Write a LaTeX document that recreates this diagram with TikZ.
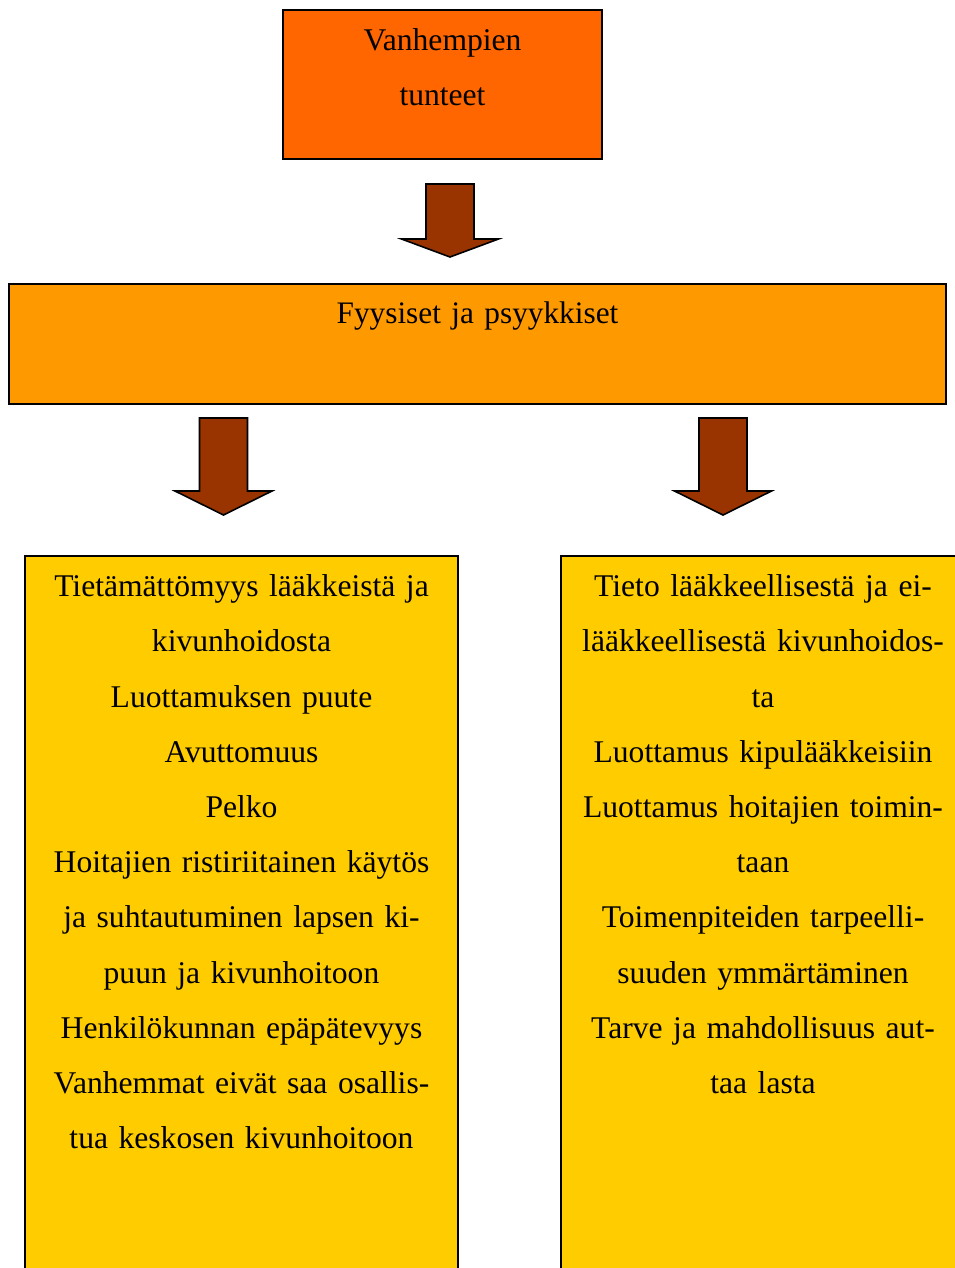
\documentclass[tikz,border=0pt]{standalone}
\usepackage{fontspec}
\setmainfont{Liberation Serif}
\definecolor{boxtop}{HTML}{FF6600}
\definecolor{boxmid}{HTML}{FF9900}
\definecolor{boxlow}{HTML}{FFCC00}
\definecolor{arrowfill}{HTML}{993300}
\tikzset{
  x=1pt, y=-1pt,
  panel/.style={draw=black, line width=2pt, inner sep=0pt},
  paneltext/.style={inner sep=0pt, anchor=north, align=center,
    font=\fontsize{31.6}{55.2}\selectfont},
  % block arrow: #1 = shaft length, #2 = total length
  pics/blockarrow/.style 2 args={code={
    \filldraw[fill=arrowfill, draw=black, line width=1.6pt, line join=miter]
      (-24,0) -- (24,0) -- (24,#1) -- (48.5,#1) -- (0,#2)
      -- (-48.5,#1) -- (-24,#1) -- cycle;
  }}
}
\begin{document}
\begin{tikzpicture}
\useasboundingbox (0,0) rectangle (955,1268);

% boxes
\path[panel, fill=boxtop] (283,10) rectangle (602,159);
\path[panel, fill=boxmid] (9,284) rectangle (946,404);
\path[panel, fill=boxlow] (25,556) rectangle (458,1275);
\path[panel, fill=boxlow] (561,556) rectangle (965,1275);

% texts (first baseline minus strut height)
\node[paneltext, text width=300pt] (toptext) at (442.5,50-38.64)
  {\strut Vanhempien\\tunteet};
\node[paneltext, text width=900pt, font=\fontsize{31.3}{55.2}\selectfont] (midtext) at (477.5,323-38.64)
  {\strut Fyysiset ja psyykkiset};
\node[paneltext, text width=420pt] (lefttext) at (241.5,596.5-38.64)
  {\strut Tietämättömyys lääkkeistä ja\\
   kivunhoidosta\\
   Luottamuksen puute\\
   Avuttomuus\\
   Pelko\\
   Hoitajien ristiriitainen käytös\\
   ja suhtautuminen lapsen ki-\\
   puun ja kivunhoitoon\\
   Henkilökunnan epäpätevyys\\
   Vanhemmat eivät saa osallis-\\
   tua keskosen kivunhoitoon};
\node[paneltext, text width=390pt] (righttext) at (763,596.5-38.64)
  {\strut Tieto lääkkeellisestä ja ei-\\
   lääkkeellisestä kivunhoidos-\\
   ta\\
   Luottamus kipulääkkeisiin\\
   Luottamus hoitajien toimin-\\
   taan\\
   Toimenpiteiden tarpeelli-\\
   suuden ymmärtäminen\\
   Tarve ja mahdollisuus aut-\\
   taa lasta};

% block arrows
\pic at (450,184) {blockarrow={55}{73}};
\pic at (223.5,418) {blockarrow={73}{97}};
\pic at (723,418) {blockarrow={73}{97}};
\end{tikzpicture}
\end{document}
